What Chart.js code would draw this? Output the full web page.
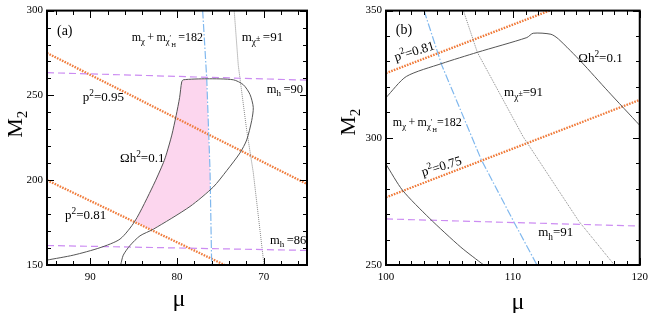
<!DOCTYPE html>
<html>
<head>
<meta charset="utf-8">
<script src="https://cdn.jsdelivr.net/npm/chart.js@4/dist/chart.umd.min.js"></script>
<style>
    html, body { margin: 0; padding: 0; background: #fff; }
    #wrap { position: relative; width: 654px; height: 313px; overflow: hidden; }
    #wrap canvas { position: absolute; top: 0; }
</style>
</head>
<body>
<div id="wrap">
    <canvas id="chartA" width="327" height="313" style="left:0"></canvas>
    <canvas id="chartB" width="327" height="313" style="left:327px"></canvas>
</div>
<script>
// === DATA: panel (a) ===
const muTicksA = [70, 80, 90];
const m2TicksA = [150, 200, 250, 300];

const p95A_mu = [95, 65];
const p95A_m2 = [275, 197.7];
const p81A_mu = [95, 74.5];
const p81A_m2 = [200, 150];
const mh90A_mu = [95, 65];
const mh90A_m2 = [263.4, 259];
const mh86A_mu = [95, 65];
const mh86A_m2 = [161.5, 158.6];
const sumA_mu = [77.04, 76.57, 76.19, 76.0];
const sumA_m2 = [300, 260, 206, 150];
const charA_mu = [73.4, 72.93, 71.96, 71.2, 69.96];
const charA_m2 = [300, 267.8, 229.5, 204.6, 150];
const omegaA_mu = [95.0, 91.97, 88.88, 86.57, 84.85, 82.73, 81.57, 81.18, 80.6, 80.1, 79.7, 79.46, 79.27,
    76.57, 73.5, 72.35, 71.58, 71.2, 71.38, 71.96, 72.73, 74.27, 75.81, 78.5, 82.73, 84.27, 85.42, 86.2, 86.5];
const omegaA_m2 = [152.9, 155.8, 160.2, 165.3, 175.9, 197.0, 210.3, 216.1, 226.6, 238.1, 248.7, 257.9, 259.2,
    259.8, 259.2, 256.3, 250.6, 242.9, 235.2, 223.7, 216.1, 205.6, 196.0, 184.5, 171.1, 167.2, 161.5, 155.8, 150];
const pinkA_mu = [84.8, 82.73, 81.57, 81.18, 80.6, 80.1, 79.7, 79.46, 79.27, 76.6, 76.2, 76.2, 78.5, 82.9, 84.8];
const pinkA_m2 = [175.5, 197.0, 210.3, 216.1, 226.6, 238.1, 248.7, 257.9, 259.2, 259.8, 206, 194.5, 184.5, 170.8, 175.5];

// === DATA: panel (b) ===
const muTicksB = [100, 110, 120];
const m2TicksB = [250, 300, 350];

const p81B_mu = [100, 112.9];
const p81B_m2 = [325.4, 350];
const p75B_mu = [100, 120];
const p75B_m2 = [276.6, 314.9];
const mh91B_mu = [100, 120];
const mh91B_m2 = [268.1, 265.3];
const sumB_mu = [103, 104.4, 107.5, 110.05, 111.9];
const sumB_m2 = [350, 328.5, 291.5, 267.2, 250];
const charB_mu = [106.1, 107.2, 110.8, 115.2, 118.0];
const charB_m2 = [350, 333.6, 300.5, 267.2, 250];
const omegaUpB_mu = [100, 101.6, 104.4, 107.2, 111.1, 111.6, 113.0, 113.6, 115.4, 117.5, 120];
const omegaUpB_m2 = [315.8, 324.1, 329.2, 333.6, 339.4, 341.1, 340.7, 338.8, 329.8, 318.3, 304.9];
const omegaLoB_mu = [100, 101.3, 103.4, 105.9, 107.7];
const omegaLoB_m2 = [289.6, 279.4, 268.5, 257, 250];

// text annotations, anchored in data coordinates (left end, baseline)
const notesA = [
    { mu: 93.85, m2: 285.6, size: 14, segs: [['(a)']] },
    { mu: 85.23, m2: 282.2, size: 12, segs: [['m'], ['χ', 1], ['\u2009+\u2009m'], ['χ', 1], ['′', 3], ['H', 2], ['\u2009=182']] },
    { mu: 72.54, m2: 282.2, segs: [['m'], ['χ', 1], ['±', 3], ['\u2009=91']] },
    { mu: 69.65, m2: 251.7, size: 12.5, segs: [['m'], ['h', 1], ['\u2009=90']] },
    { mu: 90.88, m2: 246.6, segs: [['p'], ['2', -1], ['=0.95']] },
    { mu: 86.58, m2: 210.9, segs: [['Ωh'], ['2', -1], ['=0.1']] },
    { mu: 92.92, m2: 177.0, segs: [['p'], ['2', -1], ['=0.81']] },
    { mu: 69.27, m2: 162.6, size: 12.5, segs: [['m'], ['h', 1], ['\u2009=86']] }
];
const notesB = [
    { mu: 100.77, m2: 340.8, size: 14, segs: [['(b)']] },
    { mu: 100.77, m2: 330.1, rot: -17, segs: [['p'], ['2', -1], ['=0.81']] },
    { mu: 115.15, m2: 329.7, segs: [['Ωh'], ['2', -1], ['=0.1']] },
    { mu: 109.31, m2: 316.3, segs: [['m'], ['χ', 1], ['±', 3], ['=91']] },
    { mu: 100.54, m2: 304.8, size: 12, segs: [['m'], ['χ', 1], ['\u2009+\u2009m'], ['χ', 1], ['′', 3], ['H', 2], ['=182']] },
    { mu: 102.92, m2: 284.9, rot: -17, segs: [['p'], ['2', -1], ['=0.75']] },
    { mu: 112.0, m2: 261.5, segs: [['m'], ['h', 1], ['=91']] }
];

const SERIF = '"Liberation Serif", "DejaVu Serif", serif';

// line styles
const ORANGE = { borderColor: '#f07c3c', borderWidth: 2.3, borderDash: [1.6, 1.2] };
const PURPLE = { borderColor: '#cc8cf2', borderWidth: 1.2, borderDash: [7, 4] };
const BLUE = { borderColor: '#80b8ee', borderWidth: 1.2, borderDash: [8, 2, 1.5, 2] };
const GRAY = { borderColor: '#888', borderWidth: 1, borderDash: [1, 1] };
const BLACK = { borderColor: '#555', borderWidth: 1, tension: 0.25 };

function pts(xs, ys) {
    return xs.map((v, i) => ({ x: v, y: ys[i] }));
}

function line(xs, ys, style, order) {
    return Object.assign({
        data: pts(xs, ys),
        showLine: true,
        pointRadius: 0,
        fill: false,
        order: order || 0
    }, style);
}

// draw text with sub/superscripts, level: 0 normal, 1 sub, 2 subsub, -1 sup, 3 small sup on a sub
function drawRich(ctx, x, y, segs, size) {
    let cx = x;
    segs.forEach(s => {
        const lvl = s[1] || 0;
        let fs = size, dy = 0;
        if (lvl === 1) { fs = size * 0.72; dy = size * 0.3; }
        if (lvl === 2) { fs = size * 0.55; dy = size * 0.5; }
        if (lvl === -1) { fs = size * 0.72; dy = -size * 0.4; }
        if (lvl === 3) { fs = size * 0.6; dy = -size * 0.02; }
        ctx.font = fs + 'px ' + SERIF;
        ctx.fillText(s[0], cx, y + dy);
        cx += ctx.measureText(s[0]).width;
    });
}

function decoPlugin(cfg) {
    return {
        id: 'deco',
        afterDraw(chart) {
            const ctx = chart.ctx;
            const a = chart.chartArea;
            const sx = chart.scales.x, sy = chart.scales.y;
            ctx.save();

            // inward ticks on all four sides
            ctx.fillStyle = '#000';
            const L = Math.round(a.left), R = Math.round(a.right);
            const T = Math.round(a.top), B = Math.round(a.bottom);
            const x0 = Math.ceil(sx.min / cfg.xMinor) * cfg.xMinor;
            for (let v = x0; v <= sx.max + 1e-9; v += cfg.xMinor) {
                const len = cfg.xMajors.includes(Math.round(v * 100) / 100) ? 7 : 4;
                const px = Math.round(sx.getPixelForValue(v));
                ctx.fillRect(px, B - len, 1, len);
                ctx.fillRect(px, T, 1, len);
            }
            const y0 = Math.ceil(sy.min / cfg.yMinor) * cfg.yMinor;
            for (let v = y0; v <= sy.max + 1e-9; v += cfg.yMinor) {
                const len = cfg.yMajors.includes(Math.round(v)) ? 7 : 4;
                const py = Math.round(sy.getPixelForValue(v));
                ctx.fillRect(L, py, len, 1);
                ctx.fillRect(R - len, py, len, 1);
            }

            // frame
            ctx.setLineDash([]);
            ctx.strokeStyle = '#000';
            ctx.lineWidth = 2;
            ctx.strokeRect(a.left, a.top, a.right - a.left, a.bottom - a.top);

            // annotations
            ctx.fillStyle = '#000';
            ctx.textBaseline = 'alphabetic';
            ctx.textAlign = 'left';
            cfg.notes.forEach(n => {
                const px = sx.getPixelForValue(n.mu);
                const py = sy.getPixelForValue(n.m2);
                ctx.save();
                ctx.translate(px, py);
                if (n.rot) ctx.rotate(n.rot * Math.PI / 180);
                drawRich(ctx, 0, 0, n.segs, n.size || 13);
                ctx.restore();
            });

            // axis titles
            ctx.save();
            ctx.translate(cfg.yTitle[0], cfg.yTitle[1]);
            ctx.rotate(-Math.PI / 2);
            ctx.font = '22px ' + SERIF;
            const w = ctx.measureText('M').width;
            ctx.fillText('M', -w / 2 - 4, 8);
            ctx.font = '15px ' + SERIF;
            ctx.fillText('2', w / 2 - 4, 13);
            ctx.restore();

            ctx.font = '24px ' + SERIF;
            ctx.textAlign = 'center';
            ctx.fillText('μ', cfg.xTitle[0], cfg.xTitle[1]);

            ctx.restore();
        }
    };
}

function axisOpts(ticks, extra) {
    return Object.assign({
        type: 'linear',
        grid: { display: false, drawTicks: false },
        border: { display: false },
        ticks: {
            color: '#000',
            font: { family: SERIF, size: 11 },
            maxRotation: 0,
            autoSkip: false
        },
        afterBuildTicks: s => { s.ticks = ticks.map(v => ({ value: v })); }
    }, extra);
}

function makeChart(id, datasets, xr, yr, fit, deco) {
    const xAxis = axisOpts(xr.ticks, { min: xr.min, max: xr.max, reverse: !!xr.reverse,
        afterFit: s => { s.height = fit.bottom; } });
    xAxis.ticks.padding = 6;
    const yAxis = axisOpts(yr.ticks, { min: yr.min, max: yr.max,
        afterFit: s => { s.width = fit.left; } });
    yAxis.ticks.padding = 4;

    return new Chart(document.getElementById(id), {
        type: 'scatter',
        data: { datasets },
        options: {
            responsive: false,
            animation: false,
            layout: { padding: { top: 4, right: fit.right, left: 0, bottom: 0 } },
            plugins: { legend: { display: false }, tooltip: { enabled: false } },
            scales: { x: xAxis, y: yAxis }
        },
        plugins: [decoPlugin(deco)]
    });
}

// panel (a)
makeChart('chartA', [
    Object.assign(line(pinkA_mu, pinkA_m2, { borderWidth: 0, borderColor: 'rgba(0,0,0,0)' }, 10),
        { fill: 'shape', backgroundColor: '#fcd6ee' }),
    line(omegaA_mu, omegaA_m2, BLACK),
    line(mh90A_mu, mh90A_m2, PURPLE),
    line(mh86A_mu, mh86A_m2, PURPLE),
    line(sumA_mu, sumA_m2, BLUE),
    line(charA_mu, charA_m2, GRAY),
    line(p95A_mu, p95A_m2, ORANGE),
    line(p81A_mu, p81A_m2, ORANGE)
], { min: 65, max: 95, reverse: true, ticks: muTicksA },
   { min: 150, max: 300, ticks: m2TicksA },
   { left: 47, bottom: 48, right: 20 },
   { xMinor: 2, xMajors: muTicksA, yMinor: 10, yMajors: m2TicksA, notes: notesA,
     yTitle: [14, 124], xTitle: [179, 306] });

// panel (b)
makeChart('chartB', [
    line(omegaUpB_mu, omegaUpB_m2, BLACK),
    line(omegaLoB_mu, omegaLoB_m2, BLACK),
    line(mh91B_mu, mh91B_m2, PURPLE),
    line(sumB_mu, sumB_m2, BLUE),
    line(charB_mu, charB_m2, GRAY),
    line(p81B_mu, p81B_m2, ORANGE),
    line(p75B_mu, p75B_m2, ORANGE)
], { min: 100, max: 120, ticks: muTicksB },
   { min: 250, max: 350, ticks: m2TicksB },
   { left: 59, bottom: 48, right: 8 },
   { xMinor: 1, xMajors: muTicksB, yMinor: 10, yMajors: m2TicksB, notes: notesB,
     yTitle: [20, 122], xTitle: [191, 309] });
</script>
</body>
</html>
